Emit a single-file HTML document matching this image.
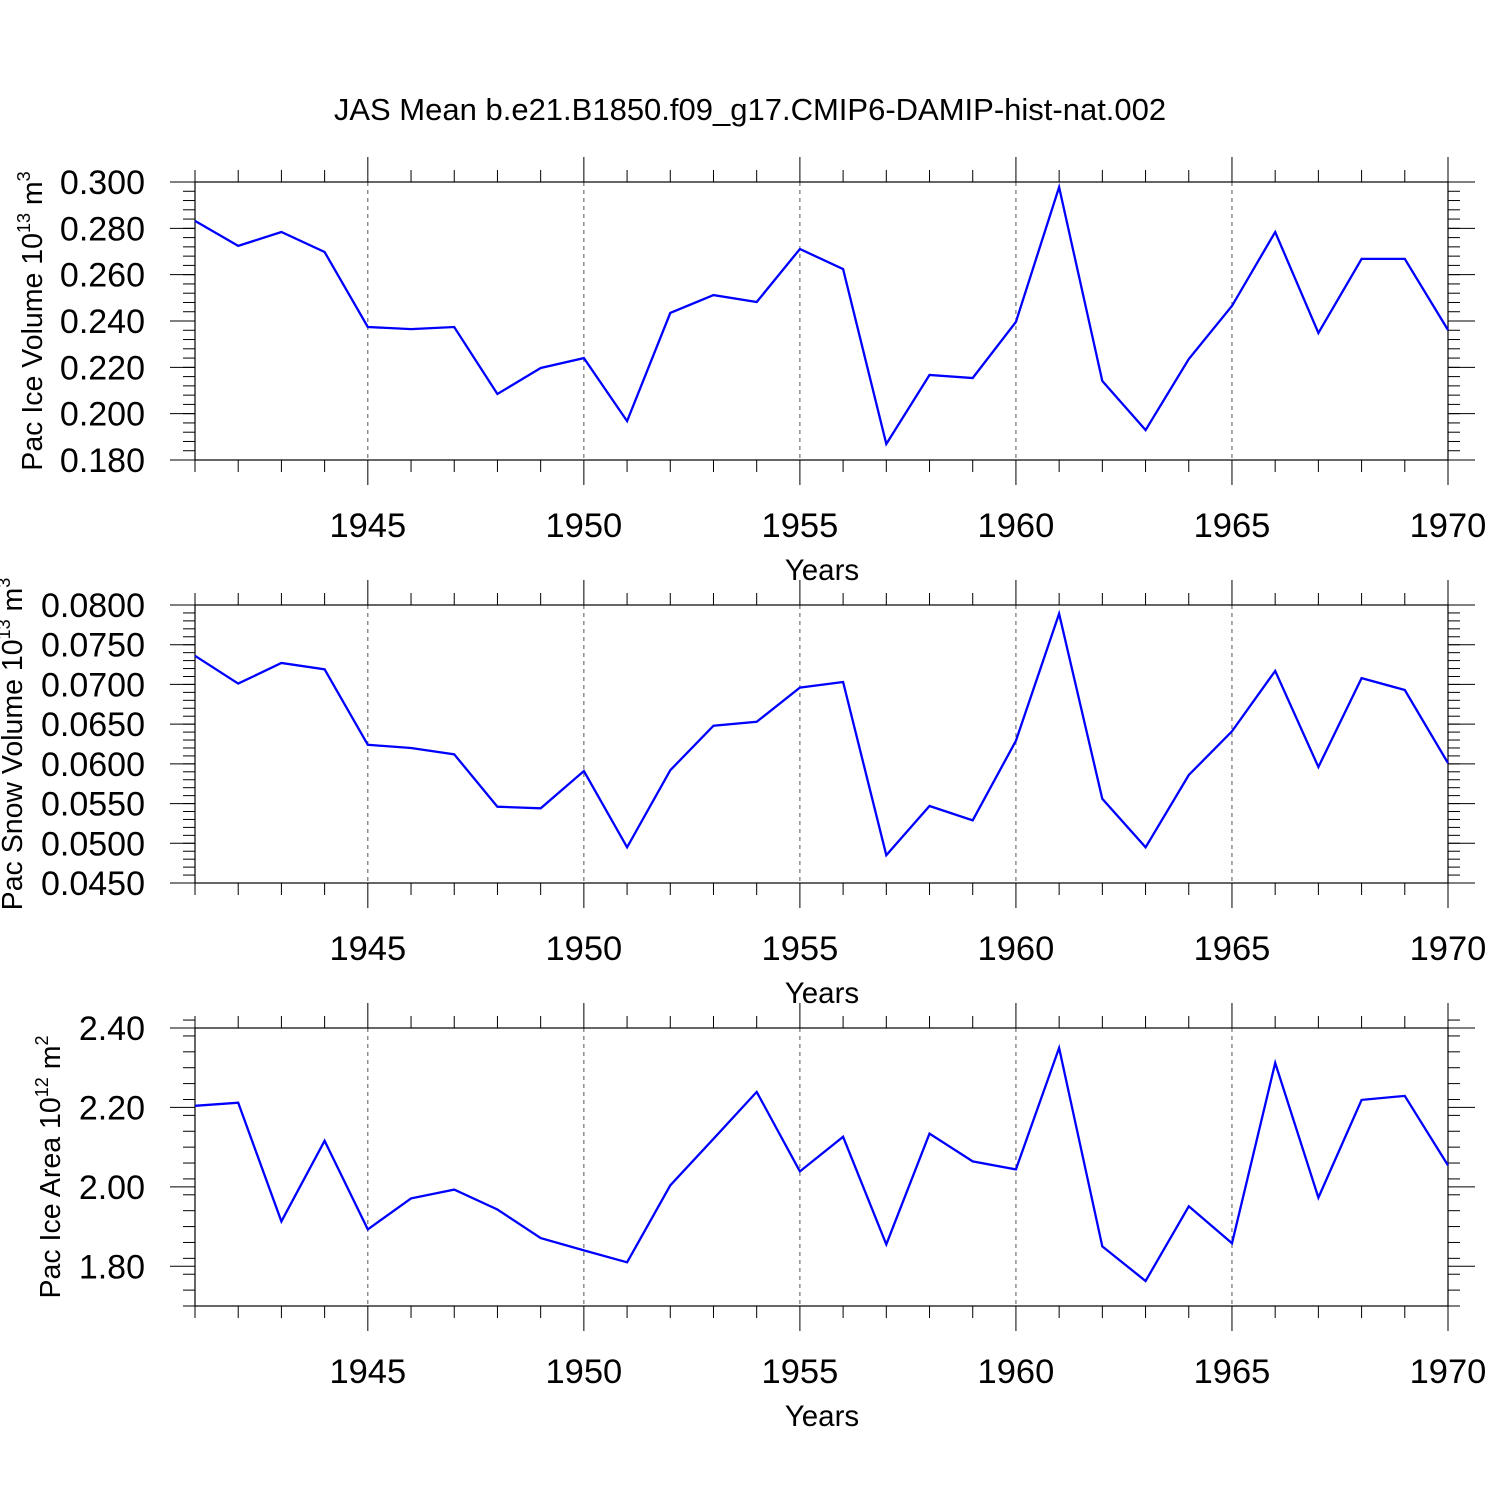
<!DOCTYPE html>
<html><head><meta charset="utf-8"><style>
body{margin:0;background:#fff}
svg text{font-family:"Liberation Sans",sans-serif;fill:#000}
</style></head><body>
<svg id="chart" width="1500" height="1500" xmlns="http://www.w3.org/2000/svg">
<rect width="1500" height="1500" fill="#fff"/>
<text x="750" y="120" font-size="31" text-anchor="middle">JAS Mean b.e21.B1850.f09_g17.CMIP6-DAMIP-hist-nat.002</text>
</svg>
<script>
const years=[1941,1942,1943,1944,1945,1946,1947,1948,1949,1950,1951,1952,1953,1954,1955,1956,1957,1958,1959,1960,1961,1962,1963,1964,1965,1966,1967,1968,1969,1970];
const xTicks=[1945,1950,1955,1960,1965,1970];
const iceVolume=[0.2832,0.2724,0.2784,0.2698,0.2374,0.2365,0.2374,0.2085,0.2197,0.2240,0.1968,0.2435,0.2512,0.2482,0.2711,0.2624,0.1869,0.2167,0.2154,0.2396,0.2978,0.2141,0.1929,0.2236,0.2465,0.2784,0.2348,0.2668,0.2668,0.2361];
const snowVolume=[0.0736,0.0701,0.0727,0.0719,0.0624,0.0620,0.0612,0.0546,0.0544,0.0591,0.0495,0.0592,0.0648,0.0653,0.0696,0.0703,0.0485,0.0547,0.0529,0.0629,0.0789,0.0556,0.0495,0.0586,0.0641,0.0717,0.0596,0.0708,0.0693,0.0601];
const iceArea=[2.204,2.212,1.913,2.116,1.893,1.971,1.993,1.943,1.871,1.840,1.810,2.004,2.121,2.239,2.039,2.126,1.855,2.134,2.064,2.044,2.350,1.850,1.763,1.951,1.858,2.312,1.973,2.219,2.229,2.054];
const iceVolTicks=["0.180","0.200","0.220","0.240","0.260","0.280","0.300"];
const snowTicks=["0.0450","0.0500","0.0550","0.0600","0.0650","0.0700","0.0750","0.0800"];
const areaTicks=["1.80","2.00","2.20","2.40"];

const svg=document.getElementById('chart');
const NS='http://www.w3.org/2000/svg';
function mk(tag,attrs,parent){const e=document.createElementNS(NS,tag);for(const k in attrs)e.setAttribute(k,attrs[k]);(parent||svg).appendChild(e);return e;}
const L=195,R=1448,X0=1941,X1=1970;
const xs=v=>L+(v-X0)/(X1-X0)*(R-L);

function panel(name,top,bottom,ymin,ymax,minorStep,ticks,data,titleX,titleMain,sup,unit,unitSup){
  const g=mk('g',{});
  
  
  const ys=v=>bottom-(v-ymin)/(ymax-ymin)*(bottom-top);
  xTicks.forEach(t=>{if(t<X1){const l=mk('line',{x1:xs(t),x2:xs(t),y1:top,y2:bottom,stroke:'#555','stroke-width':1,'stroke-dasharray':'4,4'},g);
    
    }});
  for(let yr=X0;yr<=X1;yr++){const maj=xTicks.includes(yr);const len=maj?25:12;
    mk('line',{x1:xs(yr),x2:xs(yr),y1:top-len,y2:top,stroke:'#000','stroke-width':1},g);
    mk('line',{x1:xs(yr),x2:xs(yr),y1:bottom,y2:bottom+len,stroke:'#000','stroke-width':1},g);}
  xTicks.forEach(t=>{const tx=mk('text',{x:xs(t),y:bottom+77,'font-size':34.5,'text-anchor':'middle'},g);tx.textContent=t;
    
    });
  const xt=mk('text',{x:822,y:bottom+120,'font-size':29.5,'text-anchor':'middle'},g);xt.textContent='Years';
  
  
  const n=Math.round((ymax-ymin)/minorStep);
  for(let i=0;i<=n;i++){const v=ymin+i*minorStep;const y=ys(v);
    mk('line',{x1:L-12,x2:L,y1:y,y2:y,stroke:'#000','stroke-width':1},g);
    mk('line',{x1:R,x2:R+12,y1:y,y2:y,stroke:'#000','stroke-width':1},g);}
  ticks.forEach(t=>{const y=ys(parseFloat(t));
    mk('line',{x1:L-25,x2:L,y1:y,y2:y,stroke:'#000','stroke-width':1},g);
    mk('line',{x1:R,x2:R+27,y1:y,y2:y,stroke:'#000','stroke-width':1},g);
    const tx=mk('text',{x:145,y:y+12,'font-size':34,'text-anchor':'end'},g);tx.textContent=t;
    
    });
  mk('rect',{x:L,y:top,width:R-L,height:bottom-top,fill:'none',stroke:'#000','stroke-width':1.2},g);
  const cy=(top+bottom)/2;
  const yt=mk('text',{transform:`translate(${titleX},${cy}) rotate(-90)`,'font-size':28.5,'text-anchor':'middle'},g);
  
  
  yt.innerHTML=`${titleMain}<tspan dy="-12" font-size="18">${sup}</tspan><tspan dy="12"> ${unit}</tspan><tspan dy="-12" font-size="18">${unitSup}</tspan>`;
  const pts=data.map((v,i)=>xs(years[i]).toFixed(1)+','+ys(v).toFixed(1)).join(' ');
  const pl=mk('polyline',{points:pts,fill:'none',stroke:'#0000ff','stroke-width':2.3,'stroke-linejoin':'miter'},g);
  
  
}
panel('ice-volume',182,460,0.180,0.300,0.004,iceVolTicks,iceVolume,42,'Pac Ice Volume 10','13','m','3');
panel('snow-volume',605,883,0.045,0.080,0.001,snowTicks,snowVolume,22,'Pac Snow Volume 10','13','m','3');
panel('ice-area',1028,1306,1.70,2.40,0.04,areaTicks,iceArea,60,'Pac Ice Area 10','12','m','2');
</script>
</body></html>
